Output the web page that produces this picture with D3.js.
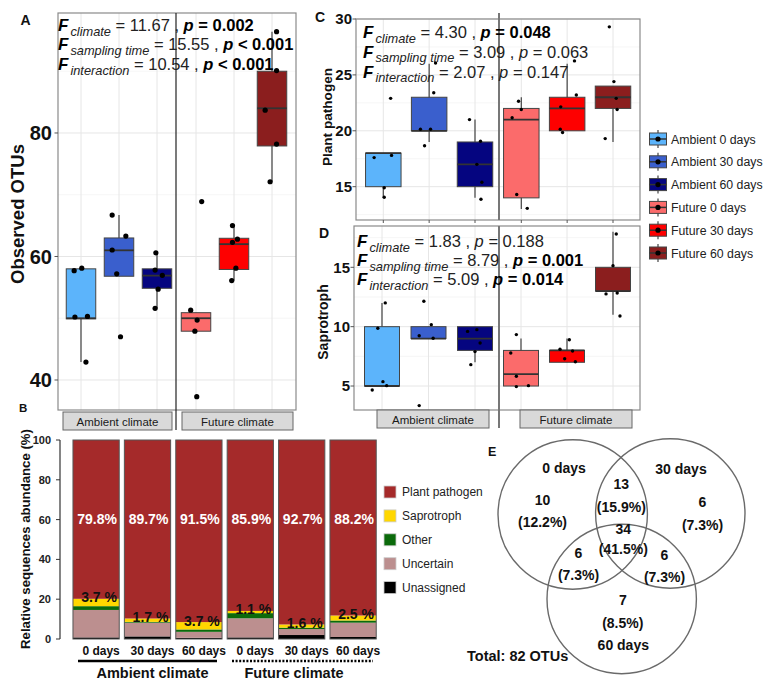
<!DOCTYPE html>
<html><head><meta charset="utf-8">
<script src="https://cdn.jsdelivr.net/npm/d3@7"></script>
<style>body{margin:0;background:#fff} text{font-family:"Liberation Sans",Arial,Helvetica,sans-serif} .st{white-space:pre}</style>
</head><body><svg id="c" width="766" height="685"></svg>
<script>
// ---------------- DATA ----------------
const groups = ["Ambient 0 days","Ambient 30 days","Ambient 60 days","Future 0 days","Future 30 days","Future 60 days"];
const groupColors = ["#5cb4fb","#3a5fcd","#050580","#fb6b6b","#fe0000","#8b1e1e"];
const climates = ["Ambient climate","Future climate"];

// Panel A: Observed OTUs (box statistics + jittered points)
const otuLow  = [42.9, 56.8, 51.6, 47.9, 56.1, 72.1];
const otuQ1   = [49.9, 56.8, 54.85, 47.9, 57.9, 77.9];
const otuMed  = [50.0, 61.0, 56.9, 50.0, 62.0, 84.0];
const otuQ3   = [58.0, 63.0, 58.0, 50.9, 62.95, 90.0];
const otuHigh = [58.0, 66.7, 60.6, 50.9, 65.0, 96.4];
const otuPoints = [[42.9,50.2,50.3,57.7,58.1],[47.0,57.2,61.05,63.3,66.7],[51.6,54.7,56.95,57.8,60.6],
                   [37.3,47.9,49.7,51.3,68.9],[56.1,58.1,62.3,62.8,65.0],[72.1,78.2,83.7,90.1,96.4]];
const otuJitter = [[0.13,-0.16,0.17,-0.18,0.02],[0.04,-0.06,-0.18,0.18,-0.18],[-0.05,0.03,0.14,-0.05,-0.03],
                   [0.02,-0.03,0.03,-0.14,0.15],[-0.06,0.05,-0.04,0.09,-0.04],[-0.05,0.12,-0.18,0.12,0.12]];
const otuTerms = ["climate","sampling time","interaction"];
const otuF = ["11.67","15.55","10.54"];
const otuP = ["= 0.002","< 0.001","< 0.001"];
const otuSig = [true,true,true];
const otuTicks = [40,60,80];

// Panel C: Plant pathogen
const ppLow  = [14, 19, 14, 13, 20, 19];
const ppQ1   = [15, 20, 15, 14, 20, 22];
const ppMed  = [18, 20, 17, 21, 22, 23];
const ppQ3   = [18, 23, 19, 22, 23, 24];
const ppHigh = [18, 26, 21, 23, 26, 24];
const ppPoints = [[14.05,14.9,17.6,17.8,22.9],[18.66,20.14,20.14,23.4,26.07],[13.87,15.4,17.0,19.07,21.0],
                  [13.06,14.3,21.16,21.9,22.64],[19.85,20.14,22.14,23.2,26.25],[19.3,21.9,22.9,24.4,29.3]];
const ppJitter = [[0.02,0.02,-0.2,0.18,0.16],[-0.1,-0.19,0.03,0.1,0.14],[0.13,0.15,0.04,0.12,-0.12],
                  [0.13,-0.1,-0.2,0,-0.06],[-0.1,-0.15,-0.14,0.2,0.16],[-0.17,0.09,0.07,0.02,-0.08]];
const ppTerms = ["climate","sampling time","interaction"];
const ppF = ["4.30","3.09","2.07"];
const ppP = ["= 0.048","= 0.063","= 0.147"];
const ppSig = [true,false,false];
const ppTicks = [15,20,25,30];

// Panel D: Saprotroph
const saLow  = [5, 9, 7, 5, 7, 11];
const saQ1   = [5, 9, 8, 5, 7, 13];
const saMed  = [5, 9, 9, 6, 8, 13];
const saQ3   = [10, 10, 10, 8, 8, 15];
const saHigh = [12, 10, 10, 9, 9, 18];
const saPoints = [[4.67,5.03,5.37,9.87,12.0],[3.35,9.02,9.24,10.17,12.14],[6.8,7.9,8.63,9.6,9.75],
                  [4.95,5.03,5.82,7.78,9.33],[7.05,7.3,7.95,8.1,8.9],[10.9,12.76,12.84,15.14,17.8]];
const saJitter = [[-0.21,0.1,0.02,-0.09,0.07],[-0.2,0.1,-0.2,0.06,-0.1],[-0.09,0,0.11,-0.16,0.04],
                  [-0.1,0.16,-0.1,-0.22,-0.1],[0.18,-0.05,0.12,-0.15,0.05],[0.15,-0.15,0.09,0,0.07]];
const saTerms = ["climate","sampling time","interaction"];
const saF = ["1.83","8.79","5.09"];
const saP = ["= 0.188","= 0.001","= 0.014"];
const saSig = [false,true,true];
const saTicks = [5,10,15];

// Panel B: relative sequence abundance (%)
const barDays = ["0 days","30 days","60 days","0 days","30 days","60 days"];
const guildKeys = ["Unassigned","Uncertain","Other","Saprotroph","Plant pathogen"];
const guildColors = {"Plant pathogen":"#a52a2a","Saprotroph":"#ffd700","Other":"#0b6a0b","Uncertain":"#bc8f8f","Unassigned":"#000000"};
const unassigned    = [0.8, 1.3, 0.6, 0.8, 2.0, 1.0];
const uncertain     = [13.8, 6.9, 3.0, 9.6, 3.0, 7.2];
const other         = [1.9, 0.4, 1.2, 2.6, 0.7, 1.1];
const saprotroph    = [3.7, 1.7, 3.7, 1.1, 1.6, 2.5];
const plantPathogen = [79.8, 89.7, 91.5, 85.9, 92.7, 88.2];
const legendBOrder = ["Plant pathogen","Saprotroph","Other","Uncertain","Unassigned"];
const barTicks = [0,20,40,60,80,100];

// Panel E: Venn
const vennSets = ["0 days","30 days","60 days"];
const vennRegions = ["only0","only30","only60","0&30","0&60","30&60","all"];
const vennCounts = [10, 6, 7, 13, 6, 6, 34];
const vennPercents = ["12.2%","7.3%","8.5%","15.9%","7.3%","7.3%","41.5%"];
const vennTotal = 82;

// ---------------- DRAW ----------------
const svg = d3.select("#c");
svg.append("rect").attr("width",766).attr("height",685).attr("fill","#fff");
const FONT_TXT = "#1a1a1a";

function statLine(g, x, y, term, fval, pval, sig) {
  const t = g.append("text").attr("class","st").attr("x", x).attr("y", y).attr("font-size", 16.5).attr("fill", "#222");
  t.append("tspan").attr("font-weight","bold").attr("font-style","italic").attr("font-size",17).attr("fill","#000").text("F");
  t.append("tspan").attr("font-style","italic").attr("font-size",12.8).attr("dx",2).attr("dy",4.5).text(term);
  t.append("tspan").attr("dy",-4.5).text(" = " + fval + " , ");
  t.append("tspan").attr("font-style","italic").attr("font-weight", sig?"bold":"normal").attr("fill",sig?"#000":"#222").text("p");
  t.append("tspan").attr("font-weight", sig?"bold":"normal").attr("fill",sig?"#000":"#222").text(" " + pval);
}

function boxPanel(c) {
  const g = svg.append("g");
  const y = d3.scaleLinear().domain(c.yDomain).range([c.y1, c.y0]);
  const xs = c.facetRanges.map(r => d3.scaleLinear().domain([0,2]).range(r));
  const spacing = (c.facetRanges[0][1]-c.facetRanges[0][0])/2;
  const xOf = i => xs[i < 3 ? 0 : 1](i % 3);
  // grid
  const minor = [];
  for (let k = 0; k < c.ticks.length + 1; k++) {
    const step = c.ticks[1]-c.ticks[0];
    const v = c.ticks[0] - step/2 + k*step;
    if (v > c.yDomain[0] && v < c.yDomain[1]) minor.push(v);
  }
  g.selectAll(".mn").data(minor).join("line").attr("x1",c.x0).attr("x2",c.x1)
    .attr("y1",d=>y(d)).attr("y2",d=>y(d)).attr("stroke","#f0f0f0").attr("stroke-width",0.6);
  g.selectAll(".mj").data(c.ticks.filter(v=>v>=c.yDomain[0]&&v<=c.yDomain[1])).join("line").attr("x1",c.x0).attr("x2",c.x1)
    .attr("y1",d=>y(d)).attr("y2",d=>y(d)).attr("stroke","#e6e6e6").attr("stroke-width",1);
  g.selectAll(".vg").data(groups).join("line").attr("x1",(d,i)=>xOf(i)).attr("x2",(d,i)=>xOf(i))
    .attr("y1",c.y0).attr("y2",c.y1).attr("stroke","#e6e6e6").attr("stroke-width",1);
  const bw = c.boxW;
  // whiskers
  g.selectAll(".wk").data(groups).join("line").attr("x1",(d,i)=>xOf(i)).attr("x2",(d,i)=>xOf(i))
    .attr("y1",(d,i)=>y(c.low[i])).attr("y2",(d,i)=>y(c.high[i])).attr("stroke","#444").attr("stroke-width",1.2);
  // boxes
  g.selectAll(".bx").data(groups).join("rect").attr("x",(d,i)=>xOf(i)-bw/2).attr("width",bw)
    .attr("y",(d,i)=>y(c.q3[i])).attr("height",(d,i)=>Math.max(0.5,y(c.q1[i])-y(c.q3[i])))
    .attr("fill",(d,i)=>groupColors[i]).attr("stroke","#444").attr("stroke-width",1);
  g.selectAll(".md").data(groups).join("line").attr("x1",(d,i)=>xOf(i)-bw/2).attr("x2",(d,i)=>xOf(i)+bw/2)
    .attr("y1",(d,i)=>y(c.med[i])).attr("y2",(d,i)=>y(c.med[i])).attr("stroke","#333").attr("stroke-width",1.8);
  // points
  c.points.forEach((arr,i)=>{
    g.selectAll(null).data(arr).join("circle").attr("cx",(d,j)=>xOf(i)+c.jitter[i][j]*spacing)
      .attr("cy",d=>y(d)).attr("r",c.pr).attr("fill","#000");
  });
  // frame
  g.append("rect").attr("x",c.x0).attr("y",c.y0).attr("width",c.x1-c.x0).attr("height",c.y1-c.y0)
    .attr("fill","none").attr("stroke","#8a8a8a").attr("stroke-width",1.2);
  g.append("line").attr("x1",c.divX).attr("x2",c.divX).attr("y1",c.divY[0]).attr("y2",c.divY[1])
    .attr("stroke",c.divColor).attr("stroke-width",c.divW);
  // y axis
  g.selectAll(".tk").data(c.ticks).join("line").attr("x1",c.x0-3.5).attr("x2",c.x0).attr("y1",d=>y(d)).attr("y2",d=>y(d))
    .attr("stroke","#555").attr("stroke-width",1);
  g.selectAll(".tl").data(c.ticks).join("text").attr("x",c.tickX).attr("y",d=>y(d)).attr("dy","0.36em")
    .attr("text-anchor","end").attr("font-weight","bold").attr("font-size",c.tickFont).attr("fill","#111").text(d=>d);
  if (c.bottomTicks) {
    g.selectAll(".bt").data(groups).join("line").attr("x1",(d,i)=>xOf(i)).attr("x2",(d,i)=>xOf(i))
      .attr("y1",c.y1).attr("y2",c.y1+3).attr("stroke","#555");
  }
  if (c.strips) {
    c.strips.forEach((s,k)=>{
      g.append("rect").attr("x",s[0]).attr("y",c.stripY).attr("width",s[1]-s[0]).attr("height",18)
        .attr("fill","#d9d9d9").attr("stroke","#666").attr("stroke-width",1);
      g.append("text").attr("x",(s[0]+s[1])/2).attr("y",c.stripY+13.5).attr("text-anchor","middle")
        .attr("font-size",11.5).attr("fill",FONT_TXT).text(climates[k]);
    });
  }
  g.append("text").attr("transform",`translate(${c.titleX},${c.titleY}) rotate(-90)`).attr("text-anchor","middle")
    .attr("dominant-baseline","central").attr("font-weight","bold").attr("font-size",c.titleFont).attr("fill","#111").text(c.title);
  g.append("text").attr("x",c.letterX).attr("y",c.letterY).attr("font-weight","bold").attr("font-size",14).attr("fill","#111").text(c.letter);
  c.terms.forEach((t,k)=>statLine(g, c.statX, c.statY[k], t, c.F[k], c.P[k], c.sig[k]));
}

// Panel A
boxPanel({x0:58,x1:296,y0:13,y1:410,yDomain:[35.14,99.43],facetRanges:[[81,157],[196,272]],boxW:29.5,pr:2.6,
  low:otuLow,q1:otuQ1,med:otuMed,q3:otuQ3,high:otuHigh,points:otuPoints,jitter:otuJitter,ticks:otuTicks,
  tickX:52,tickFont:20,divX:176,divY:[13,430],divColor:"#222",divW:1.2,strips:[[63,172],[182,293]],stripY:412,
  title:"Observed OTUs",titleX:17,titleY:214,titleFont:18.5,letter:"A",letterX:20.5,letterY:25,
  terms:otuTerms,F:otuF,P:otuP,sig:otuSig,statX:58,statY:[31,50,70]});

// Panel C
boxPanel({x0:356,x1:640,y0:19,y1:220,yDomain:[12.02,30.0],facetRanges:[[383.3,475],[521.3,613]],boxW:35.5,pr:1.7,
  low:ppLow,q1:ppQ1,med:ppMed,q3:ppQ3,high:ppHigh,points:ppPoints,jitter:ppJitter,ticks:ppTicks,
  tickX:352,tickFont:15,divX:499,divY:[13,220],divColor:"#777",divW:2,bottomTicks:true,
  title:"Plant pathogen",titleX:327.5,titleY:117,titleFont:13.6,letter:"C",letterX:315,letterY:22,
  terms:ppTerms,F:ppF,P:ppP,sig:ppSig,statX:363,statY:[38,57.5,77.5]});

// Panel D
boxPanel({x0:354,x1:640,y0:226,y1:410,yDomain:[2.98,18.48],facetRanges:[[382,475],[521,613]],boxW:35,pr:1.7,
  low:saLow,q1:saQ1,med:saMed,q3:saQ3,high:saHigh,points:saPoints,jitter:saJitter,ticks:saTicks,
  tickX:350,tickFont:15,divX:499,divY:[226,428],divColor:"#777",divW:2,strips:[[377,489],[520,632]],stripY:410,
  title:"Saprotroph",titleX:323,titleY:322,titleFont:14,letter:"D",letterX:319,letterY:238,
  terms:saTerms,F:saF,P:saP,sig:saSig,statX:357,statY:[247,266,285]});

// Legend for C/D
(function(){
  const g = svg.append("g");
  const y0 = 139, step = 22.8, cx = 658;
  groups.forEach((name,i)=>{
    const cy = y0 + i*step;
    g.append("line").attr("x1",cx).attr("x2",cx).attr("y1",cy-9).attr("y2",cy+9).attr("stroke","#444").attr("stroke-width",1.2);
    g.append("rect").attr("x",cx-8.5).attr("y",cy-6).attr("width",17).attr("height",12)
      .attr("fill",groupColors[i]).attr("stroke","#444").attr("stroke-width",1);
    g.append("line").attr("x1",cx-8.5).attr("x2",cx+8.5).attr("y1",cy).attr("y2",cy).attr("stroke","#333").attr("stroke-width",1.5);
    g.append("circle").attr("cx",cx).attr("cy",cy).attr("r",2.6).attr("fill","#000");
    g.append("text").attr("x",671).attr("y",cy+4.5).attr("font-size",12.3).attr("fill","#222").text(name);
  });
})();

// Panel B
(function(){
  const g = svg.append("g");
  const rows = barDays.map((d,i)=>({i, "Unassigned":unassigned[i],"Uncertain":uncertain[i],"Other":other[i],
    "Saprotroph":saprotroph[i],"Plant pathogen":plantPathogen[i]}));
  const x = d3.scaleBand().domain(d3.range(6)).range([70.4,378.8]).paddingInner(0.1).paddingOuter(0.05);
  const y = d3.scaleLinear().domain([0,100]).range([639,440]);
  const series = d3.stack().keys(guildKeys)(rows);
  series.forEach(s=>{
    g.selectAll(null).data(s).join("rect").attr("x",d=>x(d.data.i)).attr("width",x.bandwidth())
      .attr("y",d=>y(d[1])).attr("height",d=>y(d[0])-y(d[1])).attr("fill",guildColors[s.key]);
  });
  g.selectAll(".bo").data(rows).join("rect").attr("x",d=>x(d.i)).attr("width",x.bandwidth())
    .attr("y",y(100)).attr("height",y(0)-y(100)).attr("fill","none").attr("stroke","#555").attr("stroke-width",1);
  g.selectAll(".pl").data(rows).join("text").attr("x",d=>x(d.i)+x.bandwidth()/2+1).attr("y",y(58))
    .attr("text-anchor","middle").attr("font-weight","bold").attr("font-size",14).attr("fill","#fff")
    .text(d=>d["Plant pathogen"].toFixed(1)+"%");
  g.selectAll(".sl").data(rows).join("text").attr("x",d=>x(d.i)+x.bandwidth()/2+3).attr("y",d=>y(100-d["Plant pathogen"])+3.5)
    .attr("text-anchor","middle").attr("font-weight","bold").attr("font-size",14).attr("fill","#111")
    .text(d=>d["Saprotroph"].toFixed(1)+" %");
  g.append("line").attr("x1",60).attr("x2",60).attr("y1",y(0)).attr("y2",y(100)).attr("stroke","#333").attr("stroke-width",1.2);
  g.selectAll(".tk").data(barTicks).join("line").attr("x1",56).attr("x2",60).attr("y1",d=>y(d)).attr("y2",d=>y(d)).attr("stroke","#333");
  g.selectAll(".tl").data(barTicks).join("text").attr("x",51).attr("y",d=>y(d)).attr("dy","0.36em").attr("text-anchor","end")
    .attr("font-weight","bold").attr("font-size",11).attr("fill","#222").text(d=>d);
  g.append("text").attr("transform","translate(25,539) rotate(-90)").attr("text-anchor","middle").attr("dominant-baseline","central")
    .attr("font-weight","bold").attr("font-size",13.2).attr("fill","#111").text("Relative sequences abundance (%)");
  g.selectAll(".xl").data(rows).join("text").attr("x",d=>x(d.i)+x.bandwidth()/2+5).attr("y",655).attr("text-anchor","middle")
    .attr("font-weight","bold").attr("font-size",12).attr("fill","#111").text(d=>barDays[d.i]);
  g.append("line").attr("x1",78).attr("x2",217).attr("y1",661).attr("y2",661).attr("stroke","#000").attr("stroke-width",2.5);
  g.append("line").attr("x1",232).attr("x2",373).attr("y1",661).attr("y2",661).attr("stroke","#000").attr("stroke-width",2.5)
    .attr("stroke-dasharray","2,1.6");
  g.append("text").attr("x",152.5).attr("y",678).attr("text-anchor","middle").attr("font-weight","bold").attr("font-size",14.5).attr("fill","#111").text(climates[0]);
  g.append("text").attr("x",294).attr("y",678).attr("text-anchor","middle").attr("font-weight","bold").attr("font-size",14.5).attr("fill","#111").text(climates[1]);
  g.append("text").attr("x",19).attr("y",412).attr("font-weight","bold").attr("font-size",11.5).attr("fill","#111").text("B");
  legendBOrder.forEach((k,i)=>{
    const cy = 492 + i*23.9;
    g.append("rect").attr("x",384).attr("y",cy-6).attr("width",12).attr("height",12).attr("fill",guildColors[k]).attr("stroke","#ccc").attr("stroke-width",0.8);
    g.append("text").attr("x",402).attr("y",cy+4.3).attr("font-size",12).attr("fill","#222").text(k);
  });
})();

// Panel E: Venn
(function(){
  const g = svg.append("g");
  const circles = [{cx:572.7,cy:514.5,r:74.7},{cx:670.3,cy:513.5,r:74.7},{cx:621.7,cy:599,r:74.7}];
  g.selectAll("circle").data(circles).join("circle").attr("cx",d=>d.cx).attr("cy",d=>d.cy).attr("r",d=>d.r)
    .attr("fill","none").attr("stroke","#6a6a6a").attr("stroke-width",1.4);
  const setPos = [[564,473],[681,474],[623.3,650]];
  vennSets.forEach((s,i)=>g.append("text").attr("x",setPos[i][0]).attr("y",setPos[i][1]).attr("text-anchor","middle")
    .attr("font-weight","bold").attr("font-size",14).attr("fill","#111").text(s));
  const regPos = {"only0":[542.5,505,526.5],"only30":[702.5,507,529.5],"only60":[622.8,605,627.5],"0&30":[621.3,488.5,511.5],
                  "0&60":[578.5,557.5,580],"30&60":[664.5,560,582],"all":[623.3,533.5,554]};
  vennRegions.forEach((r,i)=>{
    const p = regPos[r];
    g.append("text").attr("x",p[0]).attr("y",p[1]).attr("text-anchor","middle").attr("font-weight","bold").attr("font-size",14).attr("fill","#111").text(vennCounts[i]);
    g.append("text").attr("x",p[0]).attr("y",p[2]).attr("text-anchor","middle").attr("font-weight","bold").attr("font-size",14).attr("fill","#111").text("("+vennPercents[i]+")");
  });
  g.append("text").attr("x",467).attr("y",661).attr("font-weight","bold").attr("font-size",14.5).attr("fill","#111").text("Total: " + vennTotal + " OTUs");
  g.append("text").attr("x",488).attr("y",456).attr("font-weight","bold").attr("font-size",12.5).attr("fill","#111").text("E");
})();
</script></body></html>
